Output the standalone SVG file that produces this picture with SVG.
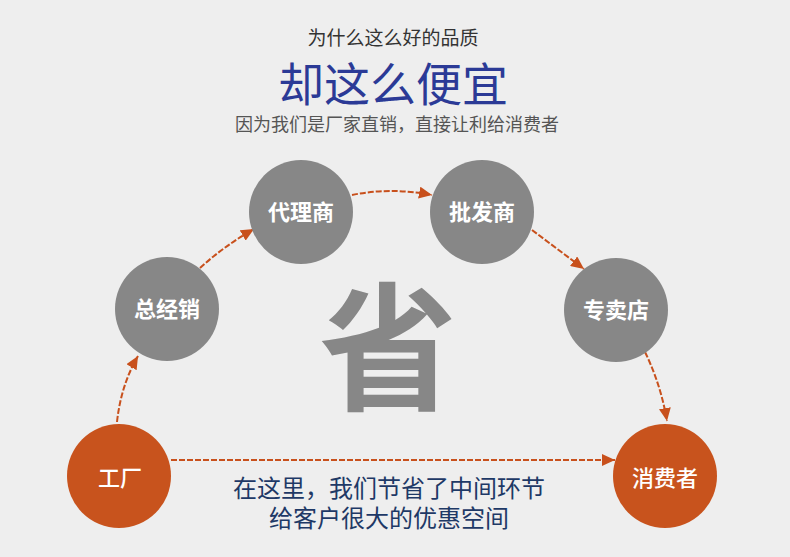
<svg xmlns="http://www.w3.org/2000/svg" width="790" height="557" viewBox="0 0 790 557">
<defs>
<style>
.t{font-family:"Noto Sans CJK SC","Noto Sans",sans-serif;text-anchor:middle}
.gray{fill:#878787}
.orange{fill:#c8531d}
.lbl{font-family:"Noto Sans CJK SC",sans-serif;font-size:22px;font-weight:700;fill:#ffffff;text-anchor:middle}
.lblo{font-family:"Noto Sans CJK SC",sans-serif;font-size:22px;font-weight:500;fill:#ffffff;text-anchor:middle}
.arr{fill:none;stroke:#c8501c;stroke-width:2;stroke-dasharray:6 2}
</style>
<marker id="ah" markerUnits="userSpaceOnUse" markerWidth="14" markerHeight="12" refX="13" refY="6" orient="auto">
<path d="M0,0 L13,6 L0,12 Z" fill="#c8501c"/>
</marker>
</defs>
<rect width="790" height="557" fill="#eeeeee"/>
<g id="titles">
<text class="t" x="393" y="45" font-size="19" fill="#333333">为什么这么好的品质</text>
<text class="t" x="393" y="101" font-size="46" fill="#2b3a96">却这么便宜</text>
<text class="t" x="397" y="131" font-size="18" fill="#555555">因为我们是厂家直销，直接让利给消费者</text>
</g>
<text id="sheng" class="t" x="388" y="399" font-size="138" font-weight="700" fill="#878787">省</text>
<g id="connectors">
<path class="arr" d="M117,422 Q121,385 138,356" marker-end="url(#ah)"/>
<path class="arr" d="M200,268 Q224,246 254,229" marker-end="url(#ah)"/>
<path class="arr" d="M352,195 Q390,187 432,195" marker-end="url(#ah)"/>
<path class="arr" d="M532,230 L584,269" marker-end="url(#ah)"/>
<path class="arr" d="M645,352 Q661,385 667,421" marker-end="url(#ah)"/>
<path class="arr" d="M171,460 L615,460" marker-end="url(#ah)"/>
</g>
<g id="node-factory">
<circle class="orange" cx="119" cy="476" r="52"/>
<text class="lblo" x="120" y="486">工厂</text>
</g>
<g id="node-zongjingxiao">
<circle class="gray" cx="167" cy="309" r="52"/>
<text class="lbl" x="167" y="317">总经销</text>
</g>
<g id="node-dailishang">
<circle class="gray" cx="301" cy="212" r="52"/>
<text class="lbl" x="301" y="220">代理商</text>
</g>
<g id="node-pifashang">
<circle class="gray" cx="482" cy="212" r="52"/>
<text class="lbl" x="482" y="220">批发商</text>
</g>
<g id="node-zhuanmaidian">
<circle class="gray" cx="616" cy="310" r="52"/>
<text class="lbl" x="616" y="318">专卖店</text>
</g>
<g id="node-consumer">
<circle class="orange" cx="665" cy="476" r="52"/>
<text class="lblo" x="665" y="486">消费者</text>
</g>
<g id="note">
<text class="t" x="389" y="497" font-size="24" fill="#1e3966">在这里，我们节省了中间环节</text>
<text class="t" x="389" y="527" font-size="24" fill="#1e3966">给客户很大的优惠空间</text>
</g>
</svg>
